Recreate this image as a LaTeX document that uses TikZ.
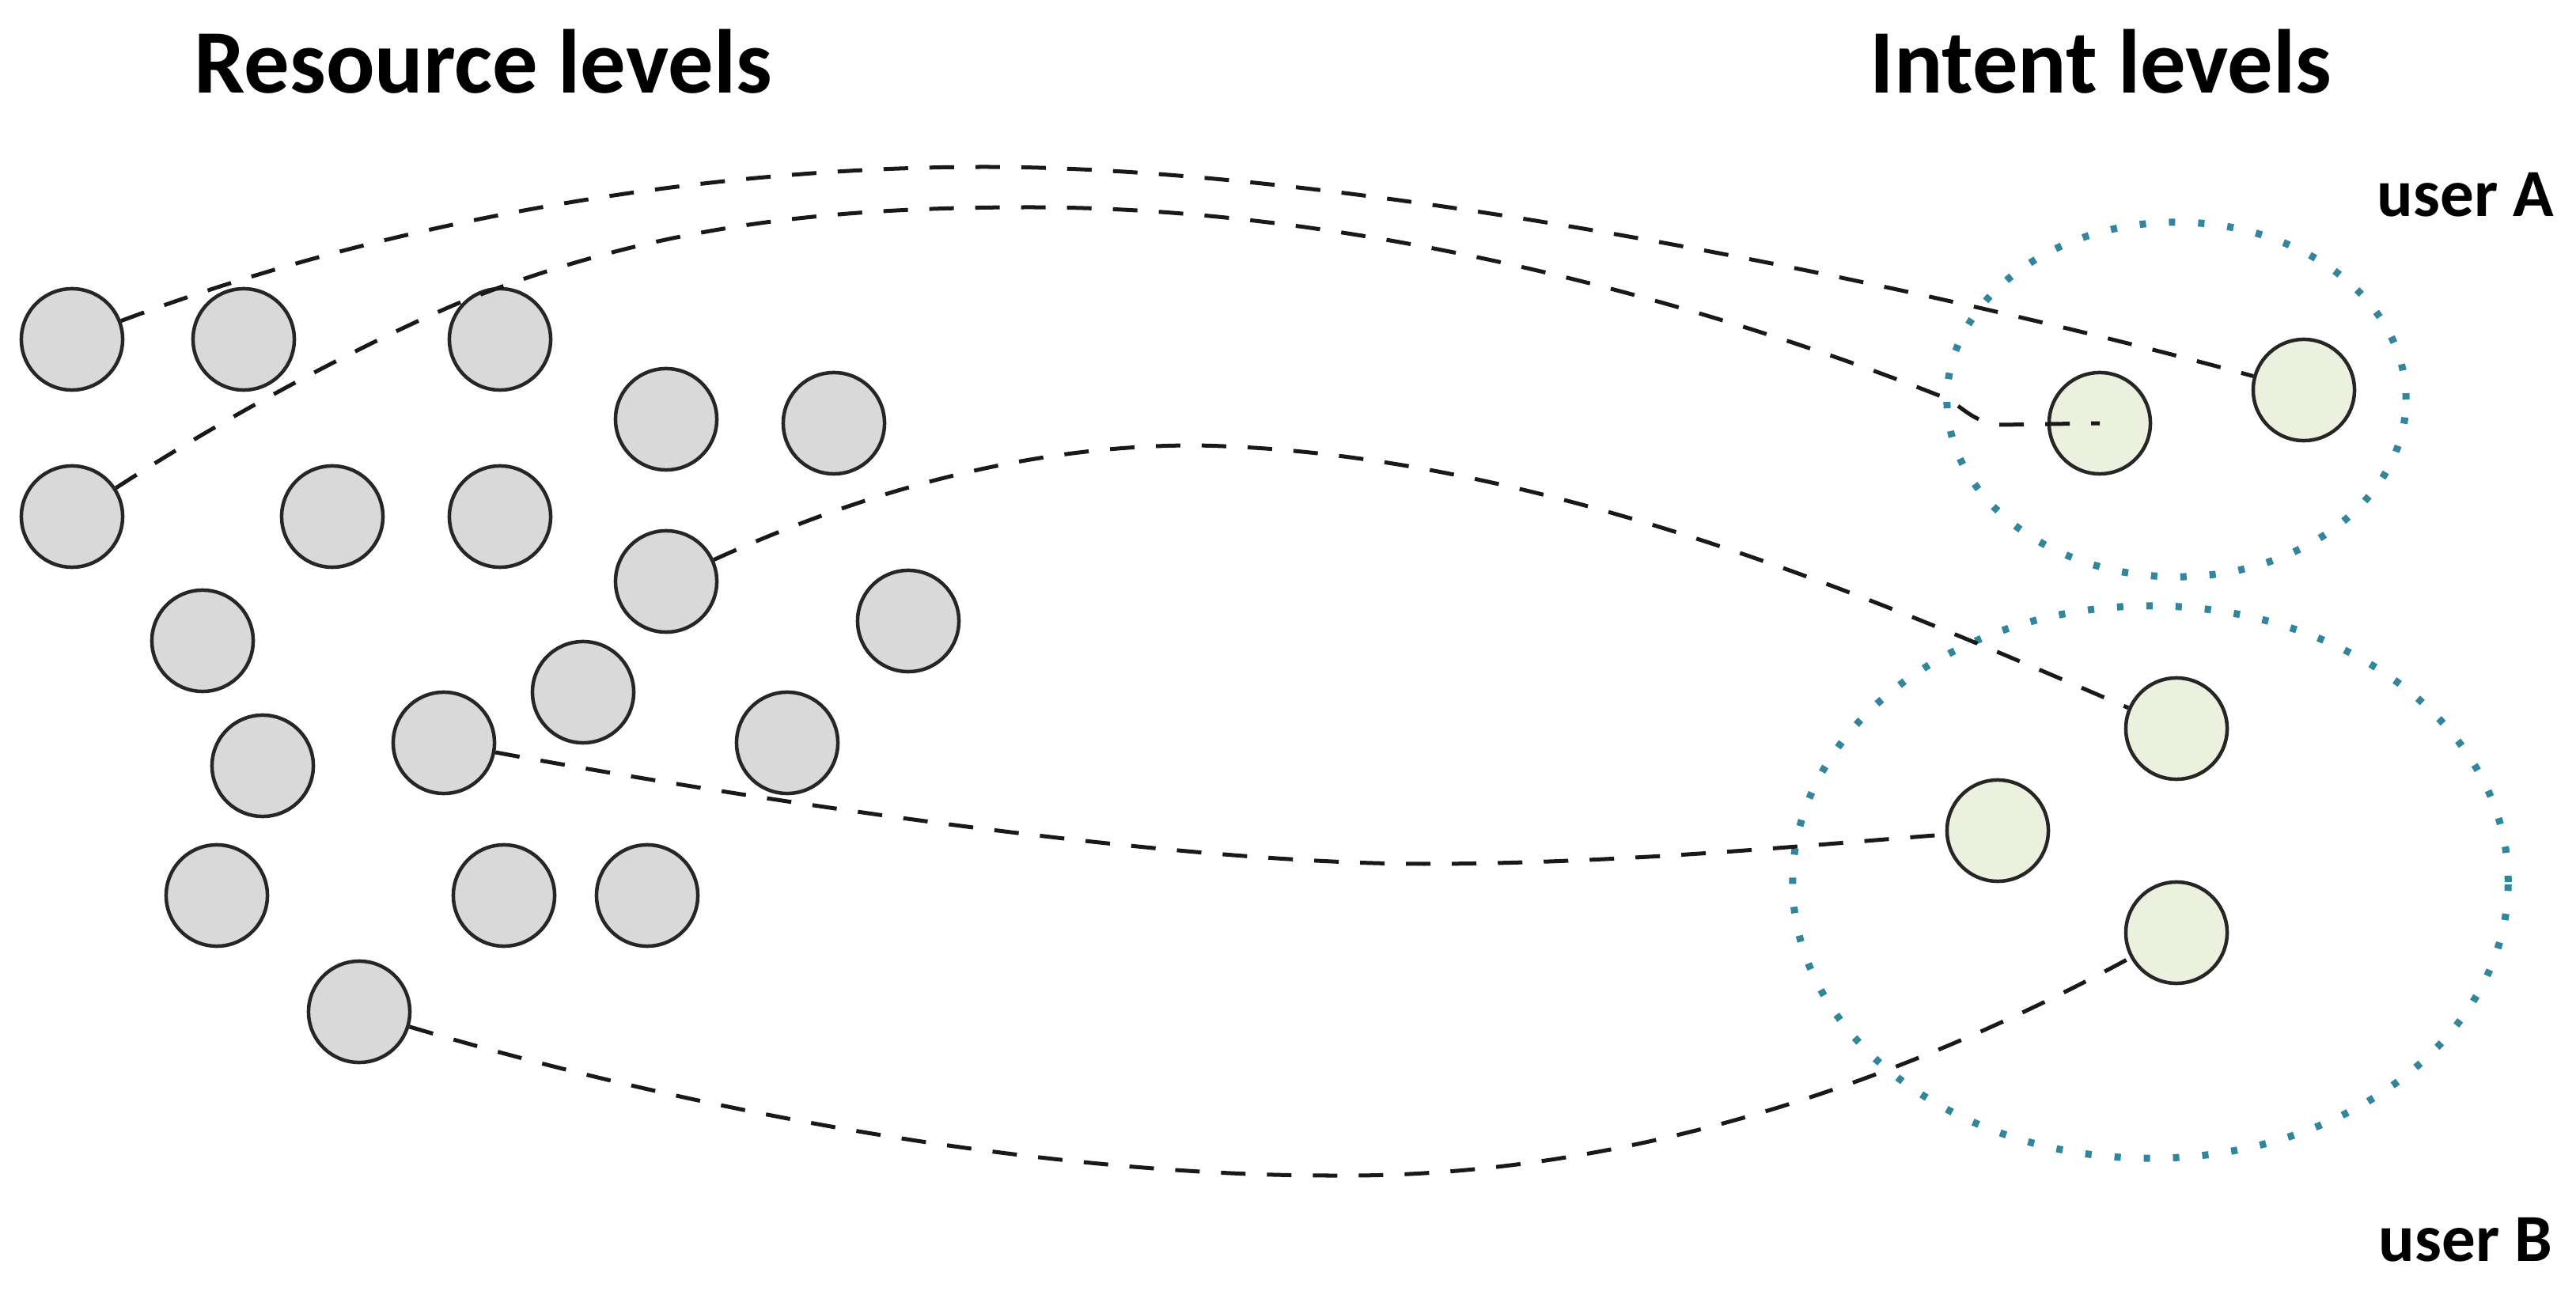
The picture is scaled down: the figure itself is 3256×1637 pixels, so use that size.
\documentclass[tikz,border=0pt]{standalone}
\usepackage{fontspec}
\setmainfont{Carlito}
\definecolor{resgray}{RGB}{217,217,217}
\definecolor{intgreen}{RGB}{235,241,222}
\definecolor{userteal}{RGB}{49,133,156}
\begin{document}
\begin{tikzpicture}[x=0.01cm,y=-0.01cm,
  res/.style={circle,draw=black!85,line width=0.045cm,fill=resgray,minimum size=1.28cm,inner sep=0pt},
  intent/.style={res,fill=intgreen},
  link/.style={line width=0.05cm,dash pattern=on 0.31cm off 0.27cm,black!90},
  group/.style={draw=userteal,line width=0.09cm,dash pattern=on 0.08cm off 0.29cm},
  title/.style={font=\fontsize{32.6}{38}\selectfont\bfseries,inner sep=0pt},
  user/.style={font=\fontsize{24.2}{30}\selectfont\bfseries,inner sep=0pt}]
\useasboundingbox (0,0) rectangle (3256,1637);

% titles
\node[title,anchor=base west] (tres) at (245,118) {Resource levels};
\node[title,anchor=base west] (tint) at (2363,118) {Intent levels};
\node[user,anchor=base east] (ua) at (3229,274) {user A};
\node[user,anchor=base east] (ub) at (3227,1594) {user B};

% user groups
\draw[group] (2751,505) ellipse [x radius=2.90cm, y radius=2.24cm];
\draw[group] (2718,1115) ellipse [x radius=4.52cm, y radius=3.49cm];

% resource nodes
\node[res] (g1) at (91,429) {};
\node[res] (g2) at (308,429) {};
\node[res] (g3) at (632,429) {};
\node[res] (g4) at (842,530) {};
\node[res] (g5) at (1054,535) {};
\node[res] (g6) at (91,653) {};
\node[res] (g7) at (420,653) {};
\node[res] (g8) at (632,653) {};
\node[res] (g9) at (842,735) {};
\node[res] (g10) at (256,810) {};
\node[res] (g11) at (1148,785) {};
\node[res] (g12) at (737,875) {};
\node[res] (g13) at (332,968) {};
\node[res] (g14) at (561,939) {};
\node[res] (g15) at (995,939) {};
\node[res] (g16) at (274,1132) {};
\node[res] (g17) at (637,1132) {};
\node[res] (g18) at (818,1132) {};
\node[res] (g19) at (454,1279) {};

% intent nodes
\node[intent] (A1) at (2654,535) {};
\node[intent] (A2) at (2912,493) {};
\node[intent] (B1) at (2751,921) {};
\node[intent] (B2) at (2525,1050) {};
\node[intent] (B3) at (2751,1179) {};

% links
\draw[link] (g1) .. controls (500,275) and (900,211) .. (1244,211)
  .. controls (1700,211) and (2400,353) .. (A2);
\draw[link] (g6) .. controls (300,517) and (480,425) .. (580,383)
  .. controls (830,283) and (1050,262) .. (1302,262)
  .. controls (1750,262) and (2200,400) .. (2461,504)
  .. controls (2480,514) and (2495,535) .. (2530,537) -- (A1.center);
\draw[link] (g9) .. controls (1148,596) and (1350,563) .. (1510,563)
  .. controls (1950,570) and (2400,770) .. (B1);
\draw[link] (g14) .. controls (1000,1020) and (1500,1092) .. (1800,1092)
  .. controls (2050,1092) and (2300,1067) .. (B2);
\draw[link] (g19) .. controls (922,1418) and (1350,1486) .. (1680,1486)
  .. controls (2050,1490) and (2400,1370) .. (B3);
\end{tikzpicture}
\end{document}
